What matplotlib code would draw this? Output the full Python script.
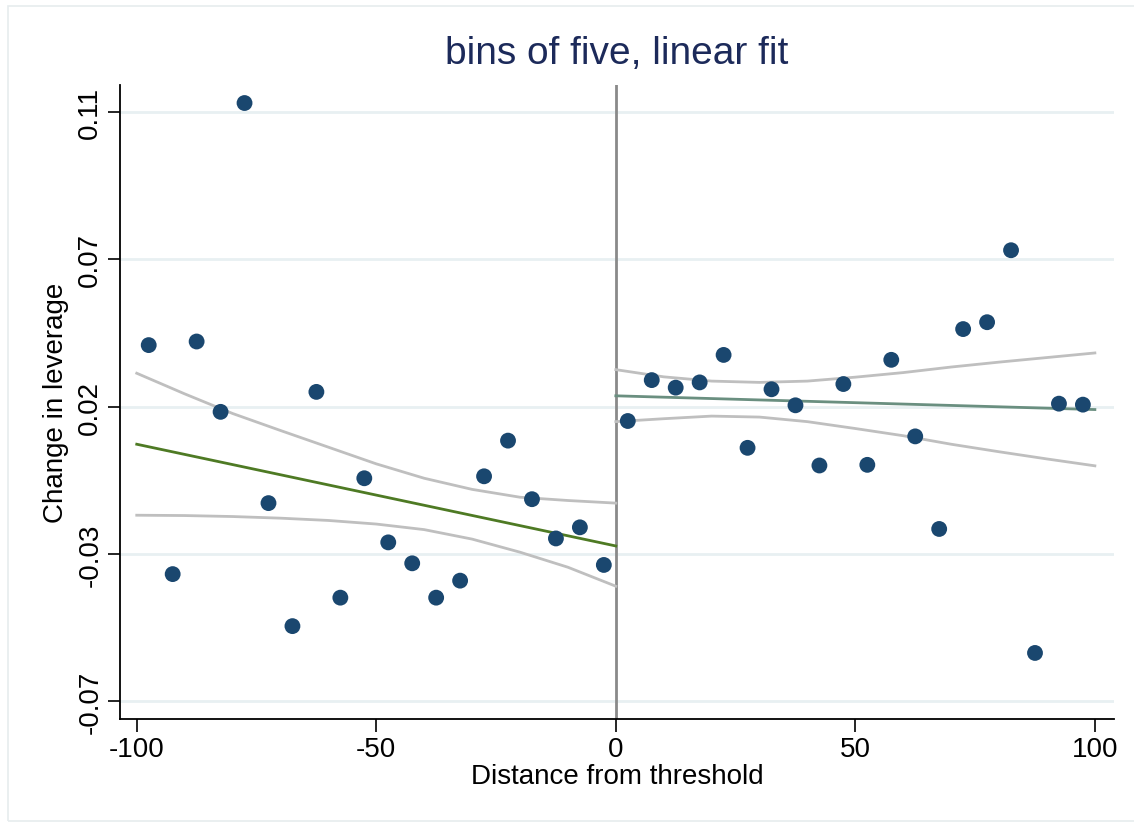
import numpy as np
import matplotlib.pyplot as plt
from matplotlib.patches import Rectangle

plt.rcParams["font.family"] = ["Liberation Sans", "DejaVu Sans"]

# binned means (bins of five)
bin_left = [-97.5, -92.5, -87.5, -82.5, -77.5, -72.5, -67.5, -62.5, -57.5, -52.5,
            -47.5, -42.5, -37.5, -32.5, -27.5, -22.5, -17.5, -12.5, -7.5, -2.5]
val_left = [0.0388, -0.0312, 0.0399, 0.0184, 0.1128, -0.0095, -0.0471, 0.0245,
            -0.0384, -0.0019, -0.0215, -0.0279, -0.0384, -0.0332, -0.0013, 0.0096,
            -0.0083, -0.0203, -0.0169, -0.0284]
bin_right = [2.5, 7.5, 12.5, 17.5, 22.5, 27.5, 32.5, 37.5, 42.5, 47.5,
             52.5, 57.5, 62.5, 67.5, 72.5, 77.5, 82.5, 87.5, 92.5, 97.5]
val_right = [0.0156, 0.0281, 0.0258, 0.0274, 0.0358, 0.0074, 0.0253, 0.0204,
             0.0020, 0.0269, 0.0022, 0.0343, 0.0109, -0.0174, 0.0437, 0.0458,
             0.0678, -0.0553, 0.0209, 0.0206]

# linear fits with confidence bands
fit_x_left = [-100, 0]
fit_y_left = [0.0085, -0.0226]
ci_x_left = [-100, -90, -80, -70, -60, -50, -40, -30, -20, -10, 0]
ci_hi_left = [0.0302, 0.0239, 0.0179, 0.0127, 0.0076, 0.0025, -0.0019, -0.0053,
              -0.0077, -0.0087, -0.0095]
ci_lo_left = [-0.0132, -0.0133, -0.0136, -0.0141, -0.0148, -0.0159, -0.0176,
              -0.0205, -0.0245, -0.0291, -0.0349]

fit_x_right = [0, 100]
fit_y_right = [0.0233, 0.0191]
ci_x_right = [0, 10, 20, 30, 40, 50, 60, 70, 80, 90, 100]
ci_hi_right = [0.0313, 0.0291, 0.0278, 0.0274, 0.0278, 0.0290, 0.0304, 0.0321,
               0.0336, 0.0350, 0.0364]
ci_lo_right = [0.0154, 0.0163, 0.0171, 0.0168, 0.0154, 0.0133, 0.0111, 0.0085,
               0.0062, 0.0040, 0.0019]

ytick_vals = [-0.07, -0.025, 0.02, 0.065, 0.11]
ytick_labels = ["-0.07", "-0.03", "0.02", "0.07", "0.11"]
xtick_vals = [-100, -50, 0, 50, 100]

navy = "#1a476f"
band = "#bfbfbf"

fig = plt.figure(figsize=(11.34, 8.28), dpi=100)
ax = fig.add_axes([0.1058, 0.1304, 0.8766, 0.7657])

# outer frame of the graph region
fig.patches.append(Rectangle((0.007, 0.007), 0.995, 0.985, transform=fig.transFigure,
                             fill=False, edgecolor="#e6ecee", linewidth=1.2))

for y in ytick_vals:
    ax.axhline(y, color="#e8f0f2", linewidth=2, zorder=0)

ax.axvline(0, color="#8a8a8a", linewidth=2, zorder=1)

# smooth the read-off band points with a spline-free line (just connect them)
ax.plot(ci_x_left, ci_hi_left, color=band, linewidth=2, zorder=2)
ax.plot(ci_x_left, ci_lo_left, color=band, linewidth=2, zorder=2)
ax.plot(ci_x_right, ci_hi_right, color=band, linewidth=2, zorder=2)
ax.plot(ci_x_right, ci_lo_right, color=band, linewidth=2, zorder=2)
ax.plot(fit_x_left, fit_y_left, color="#4e7a24", linewidth=2, zorder=3)
ax.plot(fit_x_right, fit_y_right, color="#6a8f80", linewidth=2, zorder=3)

ax.scatter(bin_left, val_left, s=130, color=navy, edgecolors="none", zorder=4)
ax.scatter(bin_right, val_right, s=130, color=navy, edgecolors="none", zorder=4)

ax.set_xlim(-103.5, 104)
ax.set_ylim(-0.0755, 0.1183)

ax.set_xticks(xtick_vals)
ax.set_xticklabels([str(v) for v in xtick_vals])
ax.set_yticks(ytick_vals)
ax.set_yticklabels(ytick_labels, rotation=90, va="center")
ax.tick_params(axis="both", labelsize=20, length=9, width=1.2, color="black", pad=3)

for s in ["top", "right"]:
    ax.spines[s].set_visible(False)
for s in ["left", "bottom"]:
    ax.spines[s].set_linewidth(1.3)

ax.set_xlabel("Distance from threshold", fontsize=20, labelpad=1)
ax.set_ylabel("Change in leverage", fontsize=20, labelpad=6)
ax.set_title("bins of five, linear fit", fontsize=28, color="#1c2a5a", pad=16)

fig.savefig("out.png", dpi=100)
